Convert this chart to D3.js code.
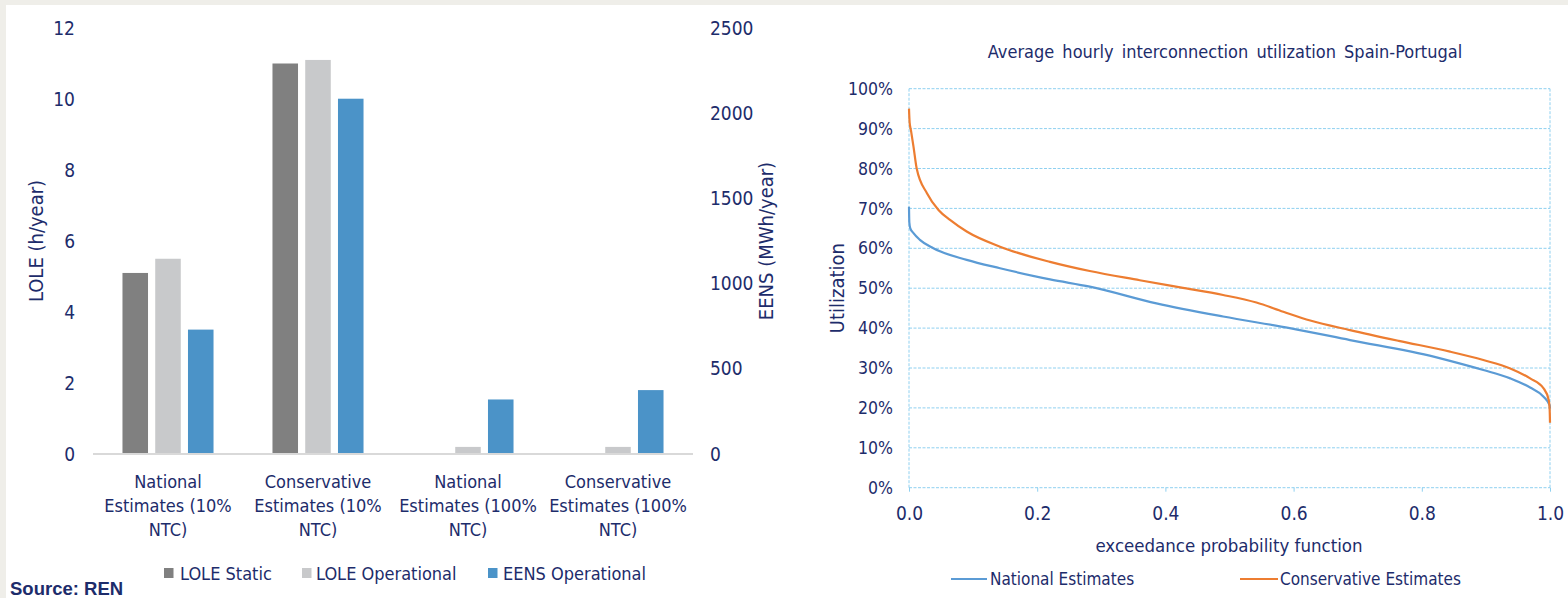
<!DOCTYPE html>
<html>
<head>
<meta charset="utf-8">
<script src="https://cdn.jsdelivr.net/npm/d3@7"></script>
<style>
  html, body { margin: 0; padding: 0; background: #efeee9; }
  svg { display: block; }
  text { font-family: "DejaVu Sans Condensed", "DejaVu Sans", sans-serif; font-stretch: condensed; fill: #1d2c6b; }
</style>
</head>
<body>
<svg id="chart" width="1568" height="598"></svg>
<script>
// ---------- Left chart data ----------
const categories = [
  "National\nEstimates (10%\nNTC)",
  "Conservative\nEstimates (10%\nNTC)",
  "National\nEstimates (100%\nNTC)",
  "Conservative\nEstimates (100%\nNTC)"
];
const seriesNames = ["LOLE Static", "LOLE Operational", "EENS Operational"];
const loleStatic = [5.1, 11.0, 0, 0];
const loleOperational = [5.5, 11.1, 0.2, 0.2];
const eensOperational = [730, 2085, 320, 375];
const leftTicks = [0, 2, 4, 6, 8, 10, 12];
const rightTicks = [0, 500, 1000, 1500, 2000, 2500];

// ---------- Right chart data ----------
const nationalX = [0, 0.0005, 0.002, 0.007, 0.017, 0.038, 0.09, 0.142, 0.22, 0.282, 0.386, 0.49, 0.594, 0.688, 0.82, 0.844, 0.896, 0.938, 0.969, 0.99, 0.9995, 1.0];
const nationalY = [70.4, 66.5, 65.0, 63.8, 62.1, 60.0, 57.1, 55.0, 52.2, 50.4, 46.2, 42.9, 40.0, 37.0, 32.8, 31.8, 29.5, 27.4, 25.1, 22.8, 20.6, 19.8];
const conservativeX = [0, 0.001, 0.003, 0.007, 0.012, 0.028, 0.046, 0.064, 0.09, 0.142, 0.22, 0.282, 0.36, 0.423, 0.49, 0.542, 0.584, 0.626, 0.688, 0.764, 0.844, 0.896, 0.938, 0.969, 0.99, 0.998, 0.9995, 1.0];
const conservativeY = [95.0, 91.5, 89.6, 85.5, 80.0, 73.8, 69.6, 67.1, 64.2, 60.4, 56.6, 54.3, 52.0, 50.2, 48.3, 46.4, 44.1, 41.9, 39.5, 36.8, 34.1, 32.0, 29.9, 27.4, 24.9, 22.0, 19.5, 16.3];
const xTicks = [0, 0.2, 0.4, 0.6, 0.8, 1.0];
const yTicks = [0, 10, 20, 30, 40, 50, 60, 70, 80, 90, 100];

const NAVY = "#1d2c6b";
const barColors = ["#808080", "#c8c9cb", "#4b93c8"];
const lineColors = { national: "#5b9bd5", conservative: "#ed7d31" };

const svg = d3.select("#chart");
svg.append("rect").attr("x", 6).attr("y", 5).attr("width", 1562).attr("height", 593).attr("fill", "#ffffff");

// ================= LEFT CHART =================
const L = { left: 93, right: 693, top: 28, bottom: 454 };
const x0 = d3.scaleBand().domain(categories).range([L.left, L.right]).paddingInner(0.393).paddingOuter(0.1965);
const x1 = d3.scaleBand().domain(seriesNames).range([0, x0.bandwidth()]).paddingInner(0.22);
const yL = d3.scaleLinear().domain([0, 12]).range([L.bottom, L.top]);
const yR = d3.scaleLinear().domain([0, 2500]).range([L.bottom, L.top]);

const left = svg.append("g");
const barData = [];
categories.forEach((c, i) => {
  barData.push({ c, s: seriesNames[0], v: loleStatic[i], scale: yL, color: barColors[0] });
  barData.push({ c, s: seriesNames[1], v: loleOperational[i], scale: yL, color: barColors[1] });
  barData.push({ c, s: seriesNames[2], v: eensOperational[i], scale: yR, color: barColors[2] });
});
left.selectAll("rect.bar").data(barData.filter(d => d.v > 0)).enter().append("rect")
  .attr("class", "bar")
  .attr("x", d => x0(d.c) + x1(d.s))
  .attr("width", x1.bandwidth())
  .attr("y", d => d.scale(d.v))
  .attr("height", d => d.scale(0) - d.scale(d.v))
  .attr("fill", d => d.color);

// baseline
left.append("line").attr("x1", L.left).attr("x2", L.right).attr("y1", yL(0)).attr("y2", yL(0))
  .attr("stroke", "#d9d9d9").attr("stroke-width", 2);

// axes
const axL = d3.axisLeft(yL).tickValues(leftTicks).tickSize(0).tickPadding(18);
const gL = left.append("g").attr("transform", `translate(${L.left},0)`).call(axL);
gL.select(".domain").remove();
gL.selectAll("text").attr("font-size", 19).attr("fill", NAVY).style("font-family", null);

const axR = d3.axisRight(yR).tickValues(rightTicks).tickFormat(d3.format("d")).tickSize(0).tickPadding(17);
const gR = left.append("g").attr("transform", `translate(${L.right},0)`).call(axR);
gR.select(".domain").remove();
gR.selectAll("text").attr("font-size", 19).attr("fill", NAVY).style("font-family", null);

// category labels
categories.forEach(c => {
  const cx = x0(c) + x0.bandwidth() / 2;
  const t = left.append("text").attr("text-anchor", "middle").attr("font-size", 18)
    .attr("x", cx).attr("y", 488);
  c.split("\n").forEach((ln, k) => {
    t.append("tspan").attr("x", cx).attr("dy", k === 0 ? 0 : 24).text(ln);
  });
});

// axis titles
left.append("text").attr("transform", `translate(43,${(L.top + L.bottom) / 2}) rotate(-90)`)
  .attr("text-anchor", "middle").attr("font-size", 20).text("LOLE (h/year)");
left.append("text").attr("transform", `translate(773,${(L.top + L.bottom) / 2}) rotate(-90)`)
  .attr("text-anchor", "middle").attr("font-size", 20).text("EENS (MWh/year)");

// legend
const legendPos = [{ sq: 164, tx: 180 }, { sq: 302, tx: 316 }, { sq: 488, tx: 503 }];
seriesNames.forEach((s, i) => {
  left.append("rect").attr("x", legendPos[i].sq).attr("y", 568).attr("width", 9.5).attr("height", 10).attr("fill", barColors[i]);
  left.append("text").attr("x", legendPos[i].tx).attr("y", 580).attr("font-size", 18).text(s);
});

// source
svg.append("text").attr("x", 10).attr("y", 595)
  .style("font-family", "'Liberation Sans', Arial, sans-serif").style("font-stretch", "normal")
  .attr("font-weight", "bold").attr("font-size", 18.5).attr("fill", "#1f3a8a").text("Source: REN");

// ================= RIGHT CHART =================
const R = { left: 909, right: 1550, top: 88.7, bottom: 487.7 };
const xs = d3.scaleLinear().domain([0, 1]).range([R.left, R.right]);
const ys = d3.scaleLinear().domain([0, 100]).range([R.bottom, R.top]);
const right = svg.append("g");
const GRID = "#8fd0f0";

right.selectAll("line.hgrid").data(yTicks).enter().append("line")
  .attr("x1", R.left).attr("x2", R.right).attr("y1", d => ys(d)).attr("y2", d => ys(d))
  .attr("stroke", GRID).attr("stroke-width", 1).attr("stroke-dasharray", "3,1.5");
[R.left, R.right].forEach(xv => {
  right.append("line").attr("x1", xv).attr("x2", xv).attr("y1", R.top).attr("y2", R.bottom)
    .attr("stroke", GRID).attr("stroke-width", 1).attr("stroke-dasharray", "3,1.5");
});

const axX = d3.axisBottom(xs).tickValues(xTicks).tickFormat(d3.format(".1f")).tickSize(4).tickPadding(15);
const gX = right.append("g").attr("transform", `translate(0,${R.bottom})`).call(axX);
gX.select(".domain").remove();
gX.selectAll(".tick line").attr("stroke", GRID);
gX.selectAll("text").attr("font-size", 19).attr("fill", NAVY).style("font-family", null);

const axY = d3.axisLeft(ys).tickValues(yTicks).tickFormat(d => d + "%").tickSize(0).tickPadding(16);
const gY = right.append("g").attr("transform", `translate(${R.left},0)`).call(axY);
gY.select(".domain").remove();
gY.selectAll("text").attr("font-size", 17.5).attr("fill", NAVY).style("font-family", null);

const line = d3.line().x(d => xs(d[0])).y(d => ys(d[1])).curve(d3.curveMonotoneX);
const natPts = nationalX.map((x, i) => [x, nationalY[i]]);
const conPts = conservativeX.map((x, i) => [x, conservativeY[i]]);
right.append("path").attr("d", line(natPts)).attr("fill", "none").attr("stroke", lineColors.national).attr("stroke-width", 2.2);
right.append("path").attr("d", line(conPts)).attr("fill", "none").attr("stroke", lineColors.conservative).attr("stroke-width", 2.2);

// titles
right.append("text").attr("x", 1225).attr("y", 58).attr("text-anchor", "middle").attr("font-size", 18)
  .attr("word-spacing", 3).text("Average hourly interconnection utilization Spain-Portugal");
right.append("text").attr("x", 1229).attr("y", 552).attr("text-anchor", "middle").attr("font-size", 18.5)
  .text("exceedance probability function");
right.append("text").attr("transform", `translate(844,${(R.top + R.bottom) / 2}) rotate(-90)`)
  .attr("text-anchor", "middle").attr("font-size", 20).text("Utilization");

// legend
const rl = [{ x1: 951, x2: 987, tx: 990, name: "National Estimates", c: lineColors.national },
            { x1: 1240, x2: 1278, tx: 1280, name: "Conservative Estimates", c: lineColors.conservative }];
rl.forEach(d => {
  right.append("line").attr("x1", d.x1).attr("x2", d.x2).attr("y1", 579).attr("y2", 579).attr("stroke", d.c).attr("stroke-width", 2.2);
  right.append("text").attr("x", d.tx).attr("y", 585).attr("font-size", 17).text(d.name);
});
</script>
</body>
</html>
